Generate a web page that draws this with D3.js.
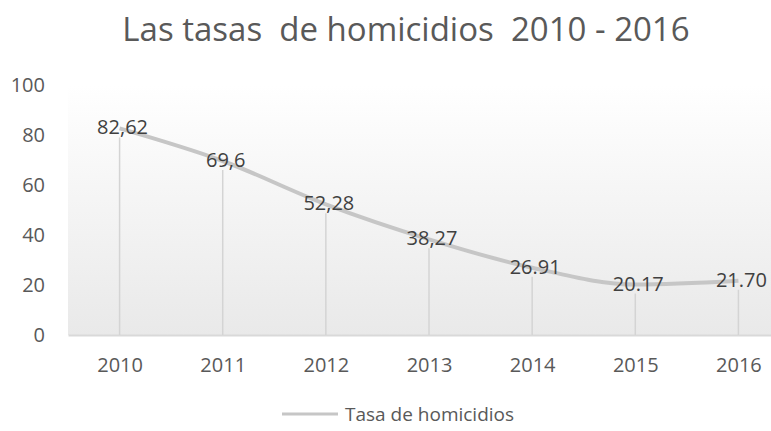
<!DOCTYPE html>
<html>
<head>
<meta charset="utf-8">
<script src="https://cdn.jsdelivr.net/npm/d3@7"></script>
<style>
  body { margin: 0; background: #fff; overflow: hidden; }
  text { font-family: "Open Sans", "Noto Sans", sans-serif; fill: #595959; }
</style>
</head>
<body>
<svg class="chart"></svg>
<script>
let width = 771, height = 431;
let margin = { top: 85, right: -19, bottom: 96, left: 68 };
let w = width - margin.left - margin.right;
let h = height - margin.top - margin.bottom;

// data
let years = ["2010", "2011", "2012", "2013", "2014", "2015", "2016"];
let rates = [82.62, 69.6, 52.28, 38.27, 26.91, 20.17, 21.70];
let rateLabels = ["82,62", "69,6", "52,28", "38,27", "26.91", "20.17", "21.70"];
let yTicks = [0, 20, 40, 60, 80, 100];
let title = "Las tasas  de homicidios  2010 - 2016";
let seriesName = "Tasa de homicidios";

let data = years.map((yr, i) => ({ year: yr, value: rates[i], label: rateLabels[i] }));

let x = d3.scalePoint()
  .domain(years)
  .range([0, w])
  .padding(0.5);

let y = d3.scaleLinear()
  .domain([0, 100])
  .range([h, 0]);

let svg = d3.select(".chart")
  .attr("width", width)
  .attr("height", height)
  .style("display", "block");

// background gradient of plot area
let grad = svg.append("defs").append("linearGradient")
  .attr("id", "bg")
  .attr("x1", 0).attr("y1", 0).attr("x2", 0).attr("y2", 1);
grad.append("stop").attr("offset", "0%").attr("stop-color", "#ffffff");
grad.append("stop").attr("offset", "100%").attr("stop-color", "#e9e9e9");

let chart = svg.append("g")
  .attr("transform", "translate(" + margin.left + "," + margin.top + ")");

chart.append("rect")
  .attr("x", 0).attr("y", 0)
  .attr("width", w).attr("height", h)
  .style("fill", "url(#bg)");

// title
svg.append("text")
  .attr("x", 406)
  .attr("y", 41)
  .attr("text-anchor", "middle")
  .style("font-size", "33px")
  .style("white-space", "pre")
  .text(title);

// y axis labels
chart.append("g")
  .selectAll("text")
  .data(yTicks)
  .enter().append("text")
  .attr("x", -23)
  .attr("y", d => y(d))
  .attr("dy", "0.35em")
  .attr("text-anchor", "end")
  .style("font-size", "20px")
  .text(d => d);

// x axis
let xAxis = chart.append("g")
  .attr("transform", "translate(0," + h + ")")
  .call(d3.axisBottom(x).tickSize(0).tickPadding(23));
xAxis.select(".domain").attr("stroke", "#d9d9d9").attr("stroke-width", 2);
xAxis.selectAll("text")
  .style("font-family", "\"Open Sans\", \"Noto Sans\", sans-serif")
  .style("font-size", "20px")
  .attr("fill", "#595959");

// drop lines
chart.selectAll(".drop")
  .data(data)
  .enter().append("line")
  .attr("class", "drop")
  .attr("x1", d => x(d.year))
  .attr("x2", d => x(d.year))
  .attr("y1", d => y(d.value) + 9)
  .attr("y2", h)
  .style("stroke", "#d4d4d4")
  .style("stroke-width", 1.5);

// the line
let line = d3.line()
  .x(d => x(d.year))
  .y(d => y(d.value))
  .curve(d3.curveMonotoneX);

chart.append("path")
  .datum(data)
  .attr("d", line)
  .style("fill", "none")
  .style("stroke", "#c6c6c6")
  .style("stroke-width", 4);

// value labels
chart.selectAll(".lbl")
  .data(data)
  .enter().append("text")
  .attr("class", "lbl")
  .attr("x", d => x(d.year) + 3)
  .attr("y", d => y(d.value))
  .attr("dy", "0.3em")
  .attr("text-anchor", "middle")
  .style("font-size", "20px")
  .style("fill", "#404040")
  .text(d => d.label);

// legend
let legend = svg.append("g")
  .attr("transform", "translate(282,414)");
legend.append("line")
  .attr("x1", 0).attr("x2", 56)
  .attr("y1", 0).attr("y2", 0)
  .style("stroke", "#c6c6c6")
  .style("stroke-width", 3);
legend.append("text")
  .attr("x", 63)
  .attr("y", 0)
  .attr("dy", "0.35em")
  .style("font-size", "19px")
  .text(seriesName);
</script>
</body>
</html>
